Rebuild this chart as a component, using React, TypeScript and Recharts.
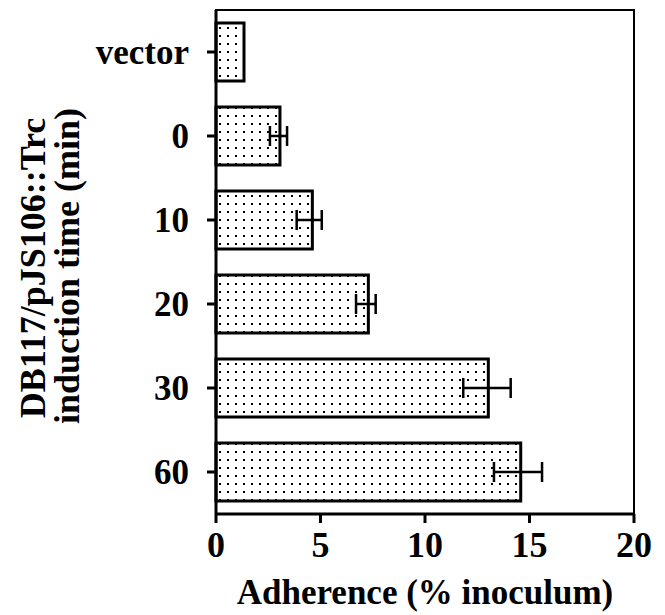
import { BarChart, Bar, XAxis, YAxis, ErrorBar, ReferenceArea } from 'recharts';

// induction time categories, top to bottom
const categories = ['vector', '0', '10', '20', '30', '60'];
// adherence, % of inoculum
const adherence = [1.34, 3.06, 4.61, 7.29, 13.03, 14.58];
// error below / above the mean
const errLow = [null, 0.48, 0.75, 0.59, 1.2, 1.28];
const errHigh = [null, 0.34, 0.45, 0.35, 1.07, 1.02];
const xTicks = [0, 5, 10, 15, 20];

const data = categories.map((c, i) => ({
  label: c,
  value: adherence[i],
  err: errLow[i] == null ? undefined : [errLow[i], errHigh[i]],
}));

const font = '"Liberation Serif", "Times New Roman", serif';

const YTitle = () => (
  <g fontFamily={font} fontWeight="bold" fontSize={36} fill="#000">
    <text x={45} y={268} transform="rotate(-90, 45, 268)" textAnchor="middle">
      DB117/pJS106::Trc
    </text>
    <text x={79} y={266} transform="rotate(-90, 79, 266)" textAnchor="middle">
      induction time (min)
    </text>
  </g>
);

const XTitle = () => (
  <text x={425} y={604} textAnchor="middle" fontFamily={font} fontWeight="bold" fontSize={35} fill="#000">
    Adherence (% inoculum)
  </text>
);

export default function App() {
  return (
    <div style={{ position: 'absolute', left: 0, top: 0, background: '#fff' }}>
      <BarChart
        width={665}
        height={615}
        data={data}
        layout="vertical"
        margin={{ top: 10, right: 31, bottom: 71, left: 116 }}
      >
        <defs>
          <pattern id="dots" x="0" y="0" width="8" height="8" patternUnits="userSpaceOnUse">
            <rect width="8" height="8" fill="#fff" />
            <rect x="3" y="3" width="2" height="2" fill="#000" />
          </pattern>
        </defs>
        <XAxis
          type="number"
          domain={[0, 20]}
          ticks={xTicks}
          height={30}
          axisLine={{ stroke: '#000', strokeWidth: 3 }}
          tickLine={{ stroke: '#000', strokeWidth: 3 }}
          tickSize={9}
          tickMargin={8}
          tick={{ fontFamily: font, fontWeight: 'bold', fontSize: 36, fill: '#000' }}
          label={{ content: () => <XTitle /> }}
        />
        <YAxis
          type="category"
          dataKey="label"
          width={100}
          axisLine={{ stroke: '#000', strokeWidth: 3 }}
          tickLine={{ stroke: '#000', strokeWidth: 3 }}
          tickSize={9}
          tickMargin={18}
          tick={{ fontFamily: font, fontWeight: 'bold', fontSize: 35, fill: '#000' }}
          label={{ content: () => <YTitle /> }}
        />
        <ReferenceArea x1={0} x2={20} fill="none" stroke="#000" strokeWidth={2} ifOverflow="visible" />
        <Bar
          dataKey="value"
          barSize={58}
          fill="url(#dots)"
          stroke="#000"
          strokeWidth={3}
          isAnimationActive={false}
        >
          <ErrorBar dataKey="err" direction="x" width={10} stroke="#000" strokeWidth={2.5} isAnimationActive={false} />
        </Bar>
      </BarChart>
    </div>
  );
}
